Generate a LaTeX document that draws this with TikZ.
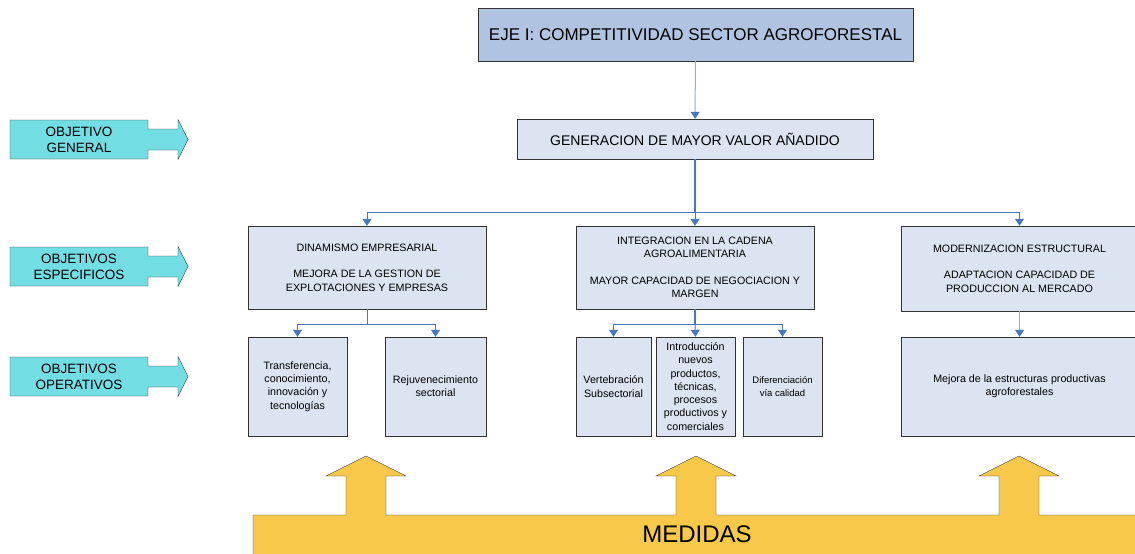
\documentclass[tikz,border=0pt]{standalone}
\usepackage{fontspec}
\setmainfont{Liberation Sans}
\usetikzlibrary{arrows.meta,positioning,calc}
\definecolor{azulEje}{RGB}{176,196,226}
\definecolor{azulCaja}{RGB}{220,228,241}
\definecolor{cian}{RGB}{114,222,228}
\definecolor{amarillo}{RGB}{247,200,74}
\definecolor{linea}{RGB}{72,118,192}
\definecolor{lineaClara}{RGB}{140,172,220}
\tikzset{
	every node/.style={
		font=\fontsize{10.7}{13.3}\selectfont
	},
	eje/.style={
		shape=rectangle,
		fill=azulEje,
		draw=black!80,
		minimum width=435pt,
		minimum height=53pt,
		font=\fontsize{17}{20}\selectfont
	},
	caja/.style={
		shape=rectangle,
		fill=azulCaja,
		draw=black!80,
		align=center,
		inner sep=2pt
	},
	etiqueta/.style={
		align=center,
		font=\fontsize{13.5}{16}\selectfont
	},
	conector/.style={
		draw=linea,
		line width=1pt,
		-{Triangle[width=9pt,length=7pt]}
	}
}

\begin{document}
\begin{tikzpicture}[x=1pt,y=-1pt]
  \useasboundingbox (0,0) rectangle (1135,554);

  % flechas de la izquierda
  \foreach \y/\nombre/\texto in {120/general/{OBJETIVO\\GENERAL},
                                 247/especificos/{OBJETIVOS\\ESPECIFICOS},
                                 357/operativos/{OBJETIVOS\\OPERATIVOS}}{
    \draw[draw=black!80, fill=cian] (10,\y) -- (148,\y) -- (148,\y+9) -- (178,\y+9)
      -- (178,\y-0.5) -- (188,\y+19.5) -- (178,\y+39.5) -- (178,\y+30)
      -- (148,\y+30) -- (148,\y+39) -- (10,\y+39) -- cycle;
    \node[etiqueta] (\nombre) at (79,\y+19.5) {\texto};
  }

  \node[eje]                                   (eje)  at (695.5,34.5) {EJE I: COMPETITIVIDAD SECTOR AGROFORESTAL};
  \node[caja, minimum width=356pt, minimum height=40pt,
        font=\fontsize{14}{17}\selectfont]     (gen)  at (695,139)    {GENERACION DE MAYOR VALOR AÑADIDO};

  \node[caja, minimum width=238pt, minimum height=83pt] (esp1) at (367,267.5)
    {DINAMISMO EMPRESARIAL\\[13.3pt]MEJORA DE LA GESTION DE\\EXPLOTACIONES Y EMPRESAS};
  \node[caja, minimum width=238pt, minimum height=83pt] (esp2) at (695,267.5)
    {INTEGRACION EN LA CADENA\\AGROALIMENTARIA\\[13.3pt]MAYOR CAPACIDAD DE NEGOCIACION Y\\MARGEN};
  \node[caja, minimum width=237pt, minimum height=85pt] (esp3) at (1019.5,268.5)
    {MODERNIZACION ESTRUCTURAL\\[13.3pt]ADAPTACION CAPACIDAD DE\\PRODUCCION AL MERCADO};

  \node[caja, minimum width=99pt,  minimum height=99pt] (trans) at (297.5,386.5)
    {Transferencia,\\conocimiento,\\innovación y\\tecnologías};
  \node[caja, minimum width=101pt, minimum height=99pt] (rejuv) at (435.5,386.5)
    {Rejuvenecimiento\\sectorial};
  \node[caja, minimum width=75pt,  minimum height=99pt] (vert)  at (613.5,386.5)
    {Vertebración\\Subsectorial};
  \node[caja, minimum width=79pt,  minimum height=99pt] (intro) at (695.5,386.5)
    {Introducción\\nuevos\\productos,\\técnicas,\\procesos\\productivos y\\comerciales};
  \node[caja, minimum width=79pt,  minimum height=99pt,
        font=\fontsize{9.5}{12.7}\selectfont]           (difer) at (782.5,386.5)
    {Diferenciación\\vía calidad};
  \node[caja, minimum width=237pt, minimum height=99pt] (mejora) at (1019.5,386.5)
    {Mejora de la estructuras productivas\\agroforestales};

  % conectores
  \draw[conector, draw=lineaClara, -{Triangle[width=9pt,length=7pt,fill=linea,color=linea]}] (eje) -- (gen);
  \coordinate (rama) at ($(gen.south)+(0,53)$);
  \draw[draw=linea, line width=1.6pt] (gen.south) -- (rama);
  \draw[conector] (rama) -| (esp1.north);
  \draw[conector] (rama) -- (esp2.north);
  \draw[conector] (rama) -| (esp3.north);

  \coordinate (rama1) at ($(esp1.south)+(0,15)$);
  \draw[draw=linea, line width=1pt] (esp1.south) -- (rama1);
  \draw[conector] (rama1) -| (trans.north);
  \draw[conector] (rama1) -| (rejuv.north);

  \coordinate (rama2) at ($(esp2.south)+(0,15)$);
  \draw[draw=linea, line width=1.4pt] (esp2.south) -- (rama2);
  \draw[conector] (rama2) -| (vert.north);
  \draw[conector] (rama2) -- (intro.north);
  \draw[conector] (rama2) -| (difer.north);

  \draw[conector, draw=lineaClara, -{Triangle[width=9pt,length=7pt,fill=linea,color=linea]}] (esp3) -- (mejora);

  % medidas
  \draw[draw=black!80, fill=amarillo] (253,560) -- (253,515)
    \foreach \c in {366,696,1019}{ -- (\c-20,515) -- (\c-20,476) -- (\c-40,476) -- (\c,456)
      -- (\c+40,476) -- (\c+20,476) -- (\c+20,515) }
    -- (1140,515) -- (1140,560) -- cycle;
  \node[font=\fontsize{24}{28}\selectfont] (medidas) at (697,534.5) {MEDIDAS};
\end{tikzpicture}
\end{document}
